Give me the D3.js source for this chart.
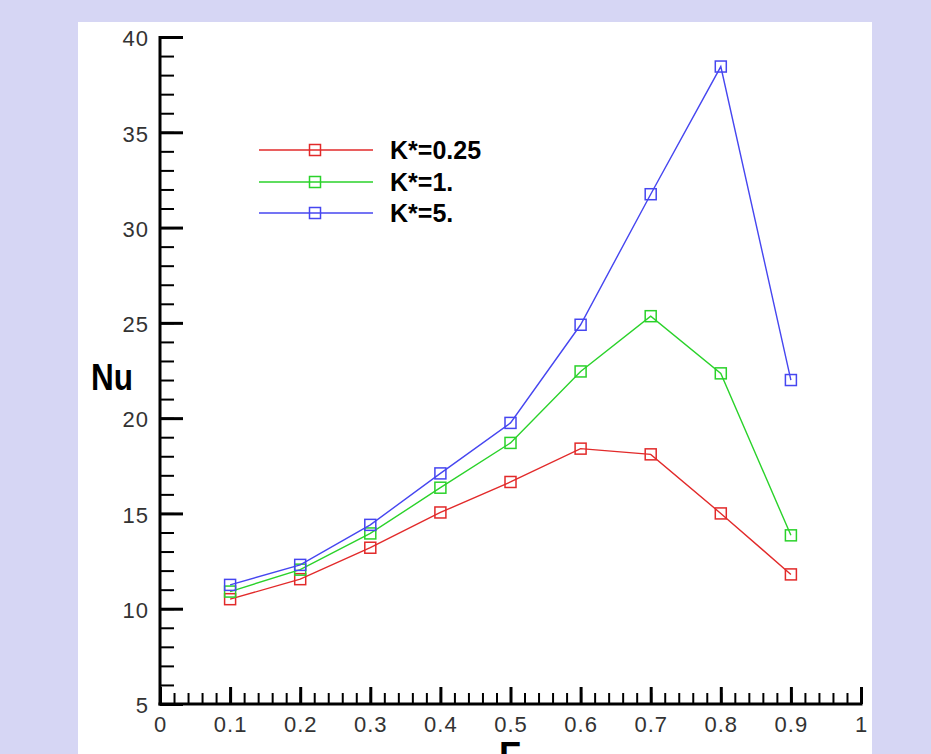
<!DOCTYPE html>
<html>
<head>
<meta charset="utf-8">
<script src="https://cdn.jsdelivr.net/npm/d3@7/dist/d3.min.js"></script>
<style>
  html, body { margin: 0; padding: 0; background: #d6d6f4; }
  svg { display: block; }
</style>
</head>
<body>
<svg id="chart" width="931" height="754"></svg>
<script>
// Nusselt number vs F for three values of K*
const fValues = [0.1, 0.2, 0.3, 0.4, 0.5, 0.6, 0.7, 0.8, 0.9];
const nuK025 = [10.5, 11.55, 13.2, 15.05, 16.65, 18.4, 18.1, 15.0, 11.8];
const nuK1   = [10.9, 12.05, 13.95, 16.35, 18.7, 22.45, 25.35, 22.35, 13.85];
const nuK5   = [11.25, 12.3, 14.4, 17.1, 19.75, 24.9, 31.75, 38.45, 22.0];
const seriesNames = ["K*=0.25", "K*=1.", "K*=5."];
const seriesColors = ["#e22a2a", "#2ad22a", "#4646f0"];
const xMajorTicks = [0, 0.1, 0.2, 0.3, 0.4, 0.5, 0.6, 0.7, 0.8, 0.9, 1];
const yMajorTicks = [5, 10, 15, 20, 25, 30, 35, 40];

const series = [nuK025, nuK1, nuK5].map((vals, i) => ({
  name: seriesNames[i],
  color: seriesColors[i],
  points: vals.map((v, j) => ({ f: fValues[j], nu: v }))
}));

const svg = d3.select("#chart");

// white plotting panel
svg.append("rect").attr("x", 78).attr("y", 22).attr("width", 794).attr("height", 740).attr("fill", "#ffffff");

const x = d3.scaleLinear().domain([0, 1]).range([160, 861]);
const y = d3.scaleLinear().domain([5, 40]).range([704, 37]);

const tickFont = "'Liberation Sans', Arial, sans-serif";

// minor ticks
const xMinor = d3.range(0, 1.0001, 0.02).map(v => +v.toFixed(2));
const yMinor = d3.range(5, 40.0001, 1);

svg.append("g").attr("transform", `translate(0,${y(5)})`)
  .call(d3.axisBottom(x).tickValues(xMinor).tickSize(-11).tickFormat(""))
  .call(g => g.select(".domain").remove())
  .call(g => g.selectAll("line").attr("stroke", "#000").attr("stroke-width", 2));

svg.append("g").attr("transform", `translate(${x(0)},0)`)
  .call(d3.axisLeft(y).tickValues(yMinor).tickSize(-14).tickFormat(""))
  .call(g => g.select(".domain").remove())
  .call(g => g.selectAll("line").attr("stroke", "#000").attr("stroke-width", 2));

// major ticks with labels
const xAxis = svg.append("g").attr("transform", `translate(0,${y(5)})`)
  .call(d3.axisBottom(x).tickValues(xMajorTicks).tickSize(-17).tickPadding(11)
    .tickFormat(d => d === 0 || d === 1 ? String(d) : d3.format(".1f")(d)))
  .call(g => g.select(".domain").remove())
  .call(g => g.selectAll("line").attr("stroke", "#000").attr("stroke-width", 3));
xAxis.selectAll("text")
  .attr("font-family", tickFont).attr("font-size", 22).attr("fill", "#333")
  .attr("letter-spacing", 1).attr("dy", "0.78em");

const yAxis = svg.append("g").attr("transform", `translate(${x(0)},0)`)
  .call(d3.axisLeft(y).tickValues(yMajorTicks).tickSize(-23).tickPadding(11))
  .call(g => g.select(".domain").remove())
  .call(g => g.selectAll("line").attr("stroke", "#000").attr("stroke-width", 3));
yAxis.selectAll("text")
  .attr("font-family", tickFont).attr("font-size", 22).attr("fill", "#333")
  .attr("letter-spacing", 1).attr("dy", "0.4em");

// axis lines
svg.append("line").attr("x1", x(0)).attr("x2", x(0)).attr("y1", y(40) - 1).attr("y2", y(5) + 1.5)
  .attr("stroke", "#000").attr("stroke-width", 3);
svg.append("line").attr("x1", x(0) - 1.5).attr("x2", x(1) + 1.5).attr("y1", y(5)).attr("y2", y(5))
  .attr("stroke", "#000").attr("stroke-width", 3);

// series lines and square markers
const line = d3.line().x(d => x(d.f)).y(d => y(d.nu));
const ms = 11;
series.forEach(s => {
  svg.append("path").datum(s.points).attr("d", line)
    .attr("fill", "none").attr("stroke", s.color).attr("stroke-width", 1.4);
  svg.append("g").selectAll("rect").data(s.points).join("rect")
    .attr("x", d => x(d.f) - ms / 2).attr("y", d => y(d.nu) - ms / 2)
    .attr("width", ms).attr("height", ms)
    .attr("fill", "none").attr("stroke", s.color).attr("stroke-width", 1.5);
});

// legend
const legendY = [150, 182, 213];
series.forEach((s, i) => {
  const g = svg.append("g").attr("transform", `translate(0,${legendY[i]})`);
  g.append("line").attr("x1", 259).attr("x2", 373).attr("y1", 0).attr("y2", 0)
    .attr("stroke", s.color).attr("stroke-width", 1.4);
  g.append("rect").attr("x", 315 - ms / 2).attr("y", -ms / 2).attr("width", ms).attr("height", ms)
    .attr("fill", "none").attr("stroke", s.color).attr("stroke-width", 1.5);
  g.append("text").attr("x", 390).attr("y", 0).attr("dy", "0.36em")
    .attr("font-family", tickFont).attr("font-weight", "bold").attr("font-size", 25)
    .attr("fill", "#000").text(s.name);
});

// axis titles
svg.append("text").attr("x", 112).attr("y", 377).attr("dy", "0.36em")
  .attr("text-anchor", "middle").attr("font-family", tickFont).attr("font-weight", "bold")
  .attr("font-size", 37).attr("textLength", 42).attr("lengthAdjust", "spacingAndGlyphs")
  .attr("fill", "#000").text("Nu");
svg.append("text").attr("x", 510).attr("y", 768)
  .attr("text-anchor", "middle").attr("font-family", tickFont).attr("font-weight", "bold")
  .attr("font-size", 36).attr("fill", "#000").text("F");
</script>
</body>
</html>
